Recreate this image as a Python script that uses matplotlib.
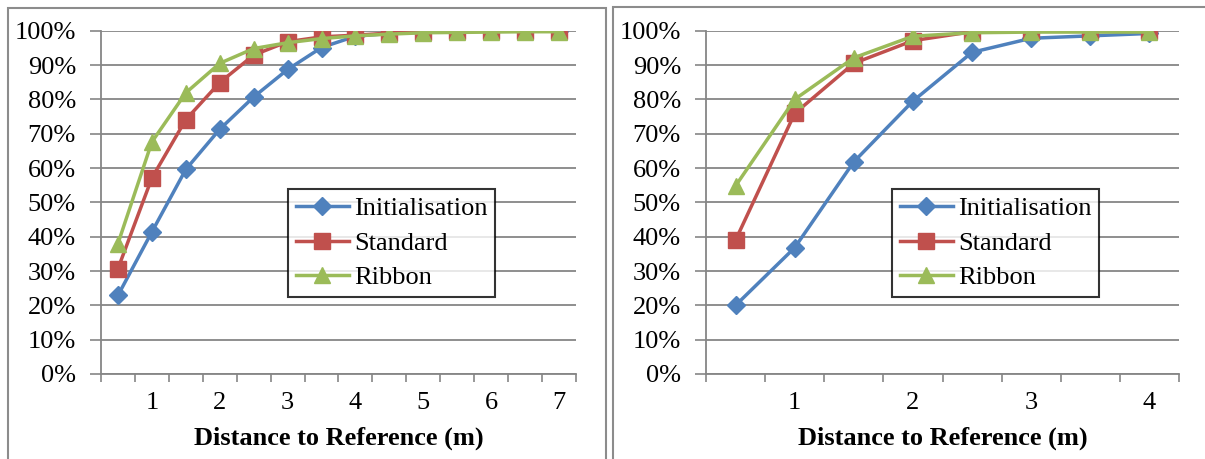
import numpy as np
import matplotlib.pyplot as plt
from matplotlib.patches import Rectangle
from matplotlib.ticker import FuncFormatter, MultipleLocator

plt.rcParams['font.family'] = ['Liberation Serif', 'DejaVu Serif']

# left chart: distance 0.5 .. 7 m
left_x = [0.5, 1, 1.5, 2, 2.5, 3, 3.5, 4, 4.5, 5, 5.5, 6, 6.5, 7]
left_init = [22.9, 41.4, 59.6, 71.3, 80.7, 88.7, 95.1, 98.4, 99.2, 99.6, 99.8, 99.9, 100, 100]
left_std = [30.7, 57.1, 74.1, 84.9, 92.9, 96.8, 98.2, 98.7, 99.3, 99.6, 99.8, 99.9, 99.9, 99.9]
left_rib = [38.0, 67.6, 81.9, 90.5, 94.8, 96.5, 97.7, 98.5, 99.0, 99.4, 99.5, 99.6, 99.7, 99.7]

# right chart: distance 0.5 .. 4 m
right_x = [0.5, 1, 1.5, 2, 2.5, 3, 3.5, 4]
right_init = [20.0, 36.8, 61.8, 79.5, 93.7, 97.8, 98.5, 99.2]
right_std = [39.0, 75.9, 90.5, 97.1, 99.7, 99.9, 99.9, 99.9]
right_rib = [54.8, 80.0, 92.1, 98.4, 99.4, 99.6, 99.6, 99.6]

series_names = ['Initialisation', 'Standard', 'Ribbon']
colors = ['#4F81BD', '#C0504D', '#9BBB59']
markers = ['D', 's', '^']
msizes = [9.5, 11, 11]
grid_col = '#868686'

fig = plt.figure(figsize=(12.05, 4.59), dpi=100)

# chart area frames
fig.patches.append(Rectangle((8 / 1205, -0.05), 598 / 1205, 1 - 8 / 459 + 0.05,
                             transform=fig.transFigure, fill=False,
                             edgecolor='#8c8c8c', linewidth=1.5))
fig.patches.append(Rectangle((613 / 1205, -0.05), 0.6, 1 - 7 / 459 + 0.05,
                             transform=fig.transFigure, fill=False,
                             edgecolor='#8c8c8c', linewidth=1.5))


def draw(rect, xs, ys_list, xmax, legend_x):
    ax = fig.add_axes(rect)
    for ys, name, c, m, ms in zip(ys_list, series_names, colors, markers, msizes):
        ax.plot(xs, ys, color=c, marker=m, markersize=ms, linewidth=2.5,
                label=name, zorder=3)
    ax.set_xlim(0.25, xmax + 0.25)
    ax.set_ylim(0, 100)
    ax.yaxis.set_major_locator(MultipleLocator(10))
    ax.yaxis.set_major_formatter(FuncFormatter(lambda v, p: '%d%%' % v))
    ax.set_xticks(range(1, xmax + 1))
    ax.set_xticks(np.arange(0.25, xmax + 0.3, 0.5), minor=True)
    ax.tick_params(axis='x', which='major', length=0, labelsize=19, pad=13)
    ax.tick_params(axis='x', which='minor', length=6, width=1.2, color=grid_col)
    ax.tick_params(axis='y', length=8, width=1.2, color=grid_col, labelsize=19, pad=10)
    ax.grid(axis='y', color=grid_col, linewidth=1.3)
    ax.set_axisbelow(True)
    for s in ['top', 'right']:
        ax.spines[s].set_visible(False)
    for s in ['left', 'bottom']:
        ax.spines[s].set_color(grid_col)
        ax.spines[s].set_linewidth(1.3)
    ax.set_xlabel('Distance to Reference (m)', fontsize=19, fontweight='bold',
                  labelpad=9)
    leg = ax.legend(loc='upper left', bbox_to_anchor=(legend_x, 1 - 189 / 459),
                    bbox_transform=fig.transFigure, fontsize=19, frameon=True,
                    fancybox=False, edgecolor='black', handlelength=2.0,
                    borderpad=0.3, labelspacing=0.42, handletextpad=0.2,
                    borderaxespad=0)
    leg.get_frame().set_linewidth(1.5)
    return ax


draw([101 / 1205, 1 - 374 / 459, 475 / 1205, 343.3 / 459], left_x,
     [left_init, left_std, left_rib], 7, 288 / 1205)
draw([706 / 1205, 1 - 374 / 459, 473 / 1205, 343.3 / 459], right_x,
     [right_init, right_std, right_rib], 4, 892 / 1205)

fig.savefig('out.png', dpi=100)
